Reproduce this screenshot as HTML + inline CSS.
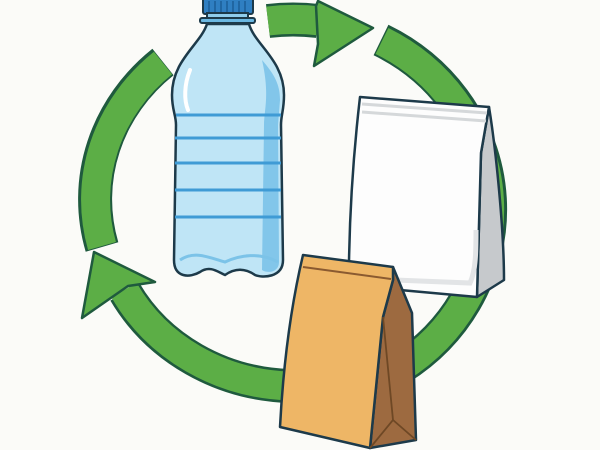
<!DOCTYPE html>
<html><head><meta charset="utf-8"><style>
html,body{margin:0;padding:0;background:#fbfbf8;}
svg{display:block;}
</style></head><body>
<svg width="600" height="450" viewBox="0 0 600 450" xmlns="http://www.w3.org/2000/svg">
<rect width="600" height="450" fill="#fbfbf8"/>
<g fill="none" stroke-linecap="butt">
  <g stroke="#1f5a3e" stroke-width="34">
    <path d="M268,21 A195,181 0 0 1 318,21"/>
    <path d="M381,40 A200,190 0 0 1 400,368"/>
    <path d="M163,62 A195,181 0 0 0 102,247"/>
    <path d="M290,386 A195,181 0 0 1 125,292"/>
  </g>
  <g stroke="#5cae46" stroke-width="29">
    <path d="M268,21 A195,181 0 0 1 320,21"/>
    <path d="M382,41 A200,190 0 0 1 400,368"/>
    <path d="M163,63 A195,181 0 0 0 102,246"/>
    <path d="M290,386 A195,181 0 0 1 124,290"/>
  </g>
</g>
<polygon points="318,1 373,28 314,66 318,44 316,6" fill="#5cae46" stroke="#1f5a3e" stroke-width="2.5" stroke-linejoin="round"/>
<polygon points="94,252 155,282 128,286 82,318" fill="#5cae46" stroke="#1f5a3e" stroke-width="2.5" stroke-linejoin="round"/>

<rect x="203" y="-2" width="50" height="16" rx="2" fill="#2f7fc2" stroke="#1d3a4a" stroke-width="2"/>
<g stroke="#1b5f98" stroke-width="1.5">
  <line x1="209" y1="1" x2="209" y2="12"/><line x1="215" y1="1" x2="215" y2="12"/><line x1="221" y1="1" x2="221" y2="12"/><line x1="227" y1="1" x2="227" y2="12"/><line x1="233" y1="1" x2="233" y2="12"/><line x1="239" y1="1" x2="239" y2="12"/><line x1="245" y1="1" x2="245" y2="12"/>
</g>
<rect x="207" y="13" width="41" height="7" fill="#8fcdec" stroke="#1d3a4a" stroke-width="2"/>
<rect x="200" y="18" width="55" height="5" rx="2" fill="#6bb8e2" stroke="#1d3a4a" stroke-width="2"/>
<path d="M207,24 C200,45 172,60 172,95 C172,110 176,115 176,125 L174,260 C174,278 190,278 200,272 C210,265 218,272 225,275 C235,268 245,268 255,275 C262,278 283,278 283,260 L281,125 C281,115 284,110 284,95 C284,60 255,45 249,24 Z" fill="#bfe5f6" stroke="#1d3a4a" stroke-width="2.5"/>
<path d="M262,60 C275,75 280,85 280,100 L278,125 L279,262 C279,272 268,274 262,270 L264,125 C264,110 270,95 262,60 Z" fill="#82c6ea"/>
<path d="M190,70 C184,85 184,100 188,110" stroke="#ffffff" stroke-width="4" fill="none" stroke-linecap="round"/>
<path d="M180,260 C195,250 210,258 225,262 C240,255 260,252 278,262" stroke="#7cc3e8" stroke-width="3" fill="none"/>
<g stroke="#3f9bd5" stroke-width="3">
  <line x1="176" y1="115" x2="281" y2="115"/>
  <line x1="175" y1="138" x2="281" y2="138"/>
  <line x1="175" y1="163" x2="281" y2="163"/>
  <line x1="175" y1="190" x2="281" y2="190"/>
  <line x1="175" y1="217" x2="281" y2="217"/>
</g>

<path d="M489,107 L481,153 L477,297 L504,280 C504,230 496,150 489,107 Z" fill="#c6c9cc" stroke="#1d3a4a" stroke-width="2.5" stroke-linejoin="round"/>
<path d="M360,97 L489,107 L481,153 L477,297 L400,290 L349,262 C350,200 355,140 360,97 Z" fill="#fdfdfd" stroke="#1d3a4a" stroke-width="2.5" stroke-linejoin="round"/>
<path d="M362,104 L487,113 M362,112 L486,121" stroke="#d5d8da" stroke-width="3" fill="none"/>
<path d="M395,280 L470,283 C476,270 476,250 476,230" stroke="#e2e4e6" stroke-width="5" fill="none"/>

<path d="M393,267 L412,313 L416,440 L370,448 L383,317 L393,280 Z" fill="#9d6a40" stroke="#1d3a4a" stroke-width="2.5" stroke-linejoin="round"/>
<path d="M303,255 L393,267 L393,280 L383,317 L370,448 L280,427 C283,370 290,310 303,255 Z" fill="#eeb666" stroke="#1d3a4a" stroke-width="2.5" stroke-linejoin="round"/>
<path d="M303,267 L391,279" stroke="#8a5a30" stroke-width="2" fill="none"/>
<path d="M383,317 L393,420 L370,448 M393,420 L416,440" stroke="#6e4825" stroke-width="1.8" fill="none"/>
</svg>
</body></html>
